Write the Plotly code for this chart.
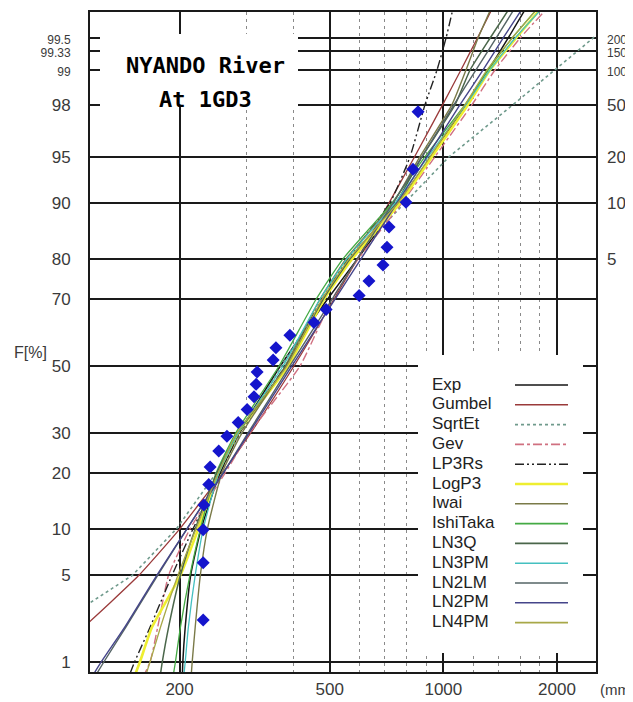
import plotly.graph_objects as go
from statistics import NormalDist

_nd = NormalDist()


def probit(p_percent):
    return _nd.inv_cdf(p_percent / 100.0)

# ---------------- data ----------------
obs_mm = [231, 231, 231, 232, 239, 241, 254, 267, 286, 302, 315, 319, 321,
          354, 360, 392, 454, 489, 598, 635, 692, 709, 718, 796, 831, 857]
obs_F = [2.29, 6.11, 9.92, 13.74, 17.56, 21.37, 25.19, 29.01, 32.82, 36.64,
         40.46, 44.27, 48.09, 51.91, 55.73, 59.54, 63.36, 67.18, 70.99, 74.81,
         78.63, 82.44, 86.26, 90.08, 93.89, 97.71]

curve_F = [0.5, 1, 2, 5, 10, 20, 30, 50, 70, 80, 90, 95, 98, 99, 99.5, 99.8]

exp_mm = [203, 204, 207, 214, 228, 256, 288, 370, 493, 592, 759, 927, 1149, 1316, 1484, 1706]
gumbel_mm = [60, 83, 111, 156, 200, 260, 309, 402, 513, 592, 718, 839, 996, 1113, 1230, 1384]
sqrtet_mm = [40, 55, 92, 150, 196, 250, 292, 372, 480, 570, 790, 1036, 1530, 1980, 2490, 3300]
gev_mm = [152, 167, 175, 187, 213, 264, 307, 417, 507, 595, 777, 950, 1191, 1370, 1596, 1976]
lp3rs_mm = [141, 152, 167, 191, 217, 256, 289, 381, 477, 559, 722, 816, 894, 962, 1016, 1074]
logp3_mm = [146, 157, 169, 201, 224, 253, 286, 388, 483, 573, 768, 933, 1162, 1329, 1557, 1893]
iwai_mm = [213, 216, 220, 227, 237, 259, 293, 381, 471, 552, 736, 867, 1054, 1148, 1235, 1370]
ishitaka_mm = [189, 195, 201, 213, 227, 250, 282, 367, 460, 542, 731, 894, 1141, 1313, 1520, 1859]
ln3q_mm = [175, 180, 187, 201, 220, 251, 286, 383, 480, 566, 749, 878, 1074, 1177, 1329, 1548]
ln3pm_mm = [203, 207, 211, 220, 231, 254, 286, 376, 471, 555, 745, 911, 1148, 1329, 1548, 1917]
ln2lm_mm = [112, 126, 144, 175, 209, 261, 304, 392, 507, 591, 736, 878, 1067, 1220, 1379, 1596]
ln2pm_mm = [110, 124, 143, 174, 209, 261, 306, 397, 516, 605, 754, 905, 1107, 1274, 1439, 1676]
ln4pm_mm = [157, 167, 178, 198, 221, 253, 284, 385, 477, 562, 758, 922, 1141, 1305, 1520, 1859]

series_names = ["Exp", "Gumbel", "SqrtEt", "Gev", "LP3Rs", "LogP3", "Iwai",
                "IshiTaka", "LN3Q", "LN3PM", "LN2LM", "LN2PM", "LN4PM"]
series_values = [exp_mm, gumbel_mm, sqrtet_mm, gev_mm, lp3rs_mm, logp3_mm, iwai_mm,
                 ishitaka_mm, ln3q_mm, ln3pm_mm, ln2lm_mm, ln2pm_mm, ln4pm_mm]

F_ticks = [1, 5, 10, 20, 30, 50, 70, 80, 90, 95, 98, 99, 99.33, 99.5]
F_ticktext = ["1", "5", "10", "20", "30", "50", "70", "80", "90", "95", "98",
              "<span style='font-size:12px'>99</span>",
              "<span style='font-size:12px'>99.33</span>",
              "<span style='font-size:12px'>99.5</span>"]
T_F = [80, 90, 95, 98, 99, 99.33, 99.5]
T_ticktext = ["5", "10", "20", "50",
              "<span style='font-size:12px'>100</span>",
              "<span style='font-size:12px'>150</span>",
              "<span style='font-size:12px'>200</span>"]
x_ticks = [200, 500, 1000, 2000]
x_minor = [300, 400, 600, 700, 800, 900, 1200, 1400, 1600, 1800]

# ---------------- styles ----------------
styles = {
    "Exp": dict(color="#151515", dash="solid", width=1.5, shape="spline"),
    "Gumbel": dict(color="#9a3a3a", dash="solid", width=1.3, shape="spline"),
    "SqrtEt": dict(color="#6f9a8c", dash="dot", width=1.6, shape="linear"),
    "Gev": dict(color="#d07080", dash="dashdot", width=1.4, shape="spline"),
    "LP3Rs": dict(color="#222222", dash="9px,3px,2px,3px,2px,3px", width=1.4, shape="spline"),
    "LogP3": dict(color="#eeee30", dash="solid", width=2.6, shape="spline"),
    "Iwai": dict(color="#7a7a48", dash="solid", width=1.4, shape="spline"),
    "IshiTaka": dict(color="#44aa44", dash="solid", width=1.3, shape="spline"),
    "LN3Q": dict(color="#4a664a", dash="solid", width=1.5, shape="spline"),
    "LN3PM": dict(color="#44c0c0", dash="solid", width=1.3, shape="spline"),
    "LN2LM": dict(color="#556466", dash="solid", width=1.4, shape="spline"),
    "LN2PM": dict(color="#45458a", dash="solid", width=1.4, shape="spline"),
    "LN4PM": dict(color="#a8a848", dash="solid", width=1.3, shape="spline"),
}

# page layout (the html body adds an 8 px offset)
OFF = 8
W, H = 633 - OFF, 702 - OFF
PL, PT, PR, PB = 90, 12, 596, 672          # plot area in page pixels
L, T = PL - OFF, PT - OFF
R, B = W - (PR - OFF), H - (PB - OFF)
pw, ph = PR - PL, PB - PT


def px_x(px):
    return (px - PL) / pw


def px_y(py):
    return (PB - py) / ph

zmin, zmax = -2.405, 2.782

fig = go.Figure()

curve_z = [probit(f) for f in curve_F]
for name, vals in zip(series_names, series_values):
    st = styles[name]
    line = dict(color=st["color"], dash=st["dash"], width=st["width"], shape=st["shape"])
    if st["shape"] == "spline":
        line["smoothing"] = 0.5
    fig.add_trace(go.Scatter(
        x=vals, y=curve_z, mode="lines", name=name, showlegend=False,
        line=line, hoverinfo="skip"))

fig.add_trace(go.Scatter(
    x=obs_mm, y=[probit(f) for f in obs_F], mode="markers", showlegend=False,
    marker=dict(symbol="diamond", size=10, color="#1515cc", line=dict(width=0)),
    hoverinfo="skip"))

# dummy trace for the right (return period) axis
fig.add_trace(go.Scatter(x=[300], y=[0], yaxis="y2", mode="markers",
                         marker=dict(opacity=0), showlegend=False, hoverinfo="skip"))

tick_font = dict(family="Liberation Sans, Arial", size=17, color="#3a3a3a")

fig.update_layout(
    width=W, height=H,
    margin=dict(l=L, r=R, t=T, b=B, autoexpand=False),
    paper_bgcolor="white", plot_bgcolor="white",
    showlegend=False,
    xaxis=dict(
        type="log", range=[2.0637, 3.4044], automargin=False,
        tickmode="array", tickvals=x_ticks, ticktext=[str(v) for v in x_ticks],
        tickfont=tick_font, ticks="", ticklabelstandoff=1,
        showgrid=True, gridcolor="#1a1a1a", gridwidth=2,
        minor=dict(tickmode="array", tickvals=x_minor, showgrid=True,
                   gridcolor="#8a8a8a", griddash="3px,4px", gridwidth=1, ticks=""),
        showline=True, mirror=True, linecolor="#1a1a1a", linewidth=2,
        zeroline=False,
    ),
    yaxis=dict(
        range=[zmin, zmax], automargin=False,
        tickmode="array", tickvals=[probit(f) for f in F_ticks], ticktext=F_ticktext,
        tickfont=tick_font, ticks="", ticklabelstandoff=14,
        showgrid=True, gridcolor="#1a1a1a", gridwidth=2,
        showline=True, mirror=True, linecolor="#1a1a1a", linewidth=2,
        zeroline=False,
    ),
    yaxis2=dict(
        overlaying="y", side="right", range=[zmin, zmax], automargin=False,
        tickmode="array", tickvals=[probit(f) for f in T_F], ticktext=T_ticktext,
        tickfont=tick_font, ticks="", ticklabelstandoff=10,
        showgrid=False, zeroline=False, showline=False,
    ),
)

shapes = []
annotations = []

# title box
shapes.append(dict(type="rect", xref="paper", yref="paper",
                   x0=px_x(100), x1=px_x(298), y0=px_y(106), y1=px_y(34),
                   fillcolor="white", line=dict(width=0), layer="above"))
title_font = dict(family="DejaVu Sans Mono", size=22, color="black")
annotations.append(dict(xref="paper", yref="paper", x=px_x(205), y=px_y(66),
                        text="<b>NYANDO River</b>", showarrow=False,
                        xanchor="center", yanchor="middle", font=title_font))
annotations.append(dict(xref="paper", yref="paper", x=px_x(205), y=px_y(99),
                        text="<b>At 1GD3</b>", showarrow=False,
                        xanchor="center", yanchor="middle", font=title_font))

# legend box (text on the left, line sample on the right)
shapes.append(dict(type="rect", xref="paper", yref="paper",
                   x0=px_x(418), x1=px_x(583), y0=px_y(653), y1=px_y(355),
                   fillcolor="white", line=dict(width=0), layer="above"))
leg_font = dict(family="Liberation Sans, Arial", size=17, color="#222222")
for i, name in enumerate(series_names):
    yy = 384 + 19.8 * i
    st = styles[name]
    annotations.append(dict(xref="paper", yref="paper", x=px_x(430), y=px_y(yy),
                            text=name, showarrow=False, xanchor="left",
                            yanchor="middle", font=leg_font))
    shapes.append(dict(type="line", xref="paper", yref="paper",
                       x0=px_x(515), x1=px_x(568), y0=px_y(yy + 1), y1=px_y(yy + 1),
                       line=dict(color=st["color"], dash=st["dash"],
                                 width=max(st["width"], 1.6)),
                       layer="above"))

# axis titles
ax_font = dict(family="Liberation Sans, Arial", size=16, color="#3a3a3a")
annotations.append(dict(xref="paper", yref="paper", x=px_x(30), y=px_y(352),
                        text="F[%]", showarrow=False, xanchor="center",
                        yanchor="middle", font=ax_font))
annotations.append(dict(xref="paper", yref="paper", x=px_x(624), y=px_y(354),
                        text="T", showarrow=False, xanchor="left",
                        yanchor="middle", font=ax_font))
annotations.append(dict(xref="paper", yref="paper", x=px_x(598), y=px_y(689),
                        text="(mm)", showarrow=False, xanchor="left",
                        yanchor="middle", font=dict(family="Liberation Sans, Arial",
                                                    size=15, color="#3a3a3a")))

fig.update_layout(shapes=shapes, annotations=annotations)

fig.write_html("out.html")
